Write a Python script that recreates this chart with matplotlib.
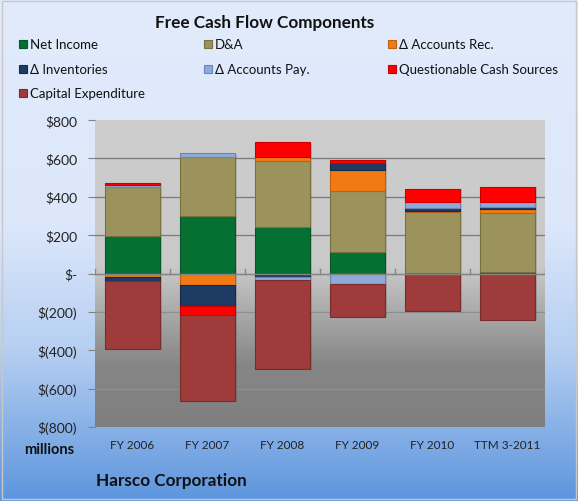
import numpy as np
import matplotlib
matplotlib.use("Agg")
import matplotlib.pyplot as plt
from matplotlib.colors import LinearSegmentedColormap
from matplotlib.patches import Rectangle

plt.rcParams["font.family"] = ["Lato", "DejaVu Sans"]

# data ($ millions)
categories = ["FY 2006", "FY 2007", "FY 2008", "FY 2009", "FY 2010", "TTM 3-2011"]
series_names = ["Net Income", "D&A", "Δ Accounts Rec.", "Δ Inventories",
                "Δ Accounts Pay.", "Questionable Cash Sources", "Capital Expenditure"]
net_income = [195, 298, 240, 110, 5, 9]
dna = [258, 310, 344, 320, 314, 307]
accounts_rec = [-20, -60, 24, 108, 5, 21]
inventories = [-20, -110, -17, 40, 16, 7]
accounts_pay = [7, 18, -18, -55, 34, 30]
questionable = [10, -45, 76, 15, 68, 79]
capex = [-352, -452, -465, -170, -193, -240]
y_ticks = [800, 600, 400, 200, 0, -200, -400, -600, -800]

colors = ["#067033", "#9c925c", "#f27a12", "#1e3b64", "#8eaad9", "#ff0000", "#9e3b3b"]
edges = ["#045528", "#77703f", "#c0600c", "#142a4a", "#6b86b5", "#c80000", "#7a2c2c"]

fig = plt.figure(figsize=(5.78, 5.02), dpi=100)

# figure background gradient
bg = fig.add_axes([0, 0, 1, 1], zorder=-10)
bg_cmap = LinearSegmentedColormap.from_list(
    "bg", [(0, "#e1ebfc"), (0.45, "#dce7fb"), (0.7, "#b6cff1"), (1.0, "#5d95de")])
bg.imshow(np.linspace(0, 1, 256).reshape(-1, 1), cmap=bg_cmap, aspect="auto",
          extent=[0, 1, 0, 1], origin="upper")
bg.add_patch(Rectangle((0.003, 0.003), 0.994, 0.994, fill=False, edgecolor="#c8c8c8", lw=1))
bg.set_xlim(0, 1)
bg.set_ylim(0, 1)
bg.axis("off")

ax = fig.add_axes([95 / 578, (502 - 428) / 502, 450 / 578, 307 / 502])

# plot area gradient
pa_cmap = LinearSegmentedColormap.from_list(
    "pa", [(0, "#cdcdcd"), (0.48, "#c9c9c9"), (0.8, "#868686"), (1.0, "#7f7f7f")])
ax.imshow(np.linspace(0, 1, 256).reshape(-1, 1), cmap=pa_cmap, aspect="auto",
          extent=[0, 1, 0, 1], origin="upper", transform=ax.transAxes, zorder=0)

x = np.arange(len(categories))
pos_bottom = np.zeros(len(categories))
neg_bottom = np.zeros(len(categories))
all_series = [net_income, dna, accounts_rec, inventories, accounts_pay, questionable, capex]
for vals, col, ec in zip(all_series, colors, edges):
    vals = np.array(vals, dtype=float)
    bottoms = np.where(vals >= 0, pos_bottom, neg_bottom)
    # soft shadow
    ax.bar(x + 0.02, vals, bottom=bottoms - 4, width=0.74, color="#000000", alpha=0.12,
           linewidth=0, zorder=2)
    ax.bar(x, vals, bottom=bottoms, width=0.74, color=col, edgecolor=ec, linewidth=0.8, zorder=3)
    pos_bottom = np.where(vals >= 0, pos_bottom + vals, pos_bottom)
    neg_bottom = np.where(vals < 0, neg_bottom + vals, neg_bottom)

ax.set_xlim(-0.5, len(categories) - 0.5)
ax.set_ylim(-800, 800)
ax.set_yticks(y_ticks)
ax.set_yticklabels(["$-" if v == 0 else (f"${v}" if v > 0 else f"$({-v})") for v in y_ticks])
for v in y_ticks[1:-1]:
    ax.axhline(v, color="#7a7a7a" if v > 0 else "#8e8e8e", lw=0.9, zorder=1)
ax.axhline(0, color="#858585", lw=1.0, zorder=4)
for b in np.arange(-0.5, len(categories), 1.0):
    ax.plot([b, b], [0, 22], color="#858585", lw=1.0, zorder=4)

ax.set_xticks(x)
ax.set_xticklabels(categories, fontsize=8.5, color="#222222")
ax.tick_params(axis="x", length=0, pad=9)
ax.tick_params(axis="y", length=5, color="#808080", labelsize=10, pad=8, labelcolor="#222222")
for s in ax.spines.values():
    s.set_visible(False)

# title and labels
fig.text(265 / 578, 1 - 23 / 502, "Free Cash Flow Components", ha="center", va="center",
         fontsize=12.3, fontweight="bold", color="#111111")
fig.text(49 / 578, 1 - 450 / 502, "millions", ha="center", va="center",
         fontsize=10.5, fontweight="bold", color="#111111")
fig.text(96 / 578, 1 - 481 / 502, "Harsco Corporation", ha="left", va="center",
         fontsize=12.3, fontweight="bold", color="#111111")

# legend, three columns laid out row by row
leg_x = [24, 209, 393]
leg_y = [45, 70, 94]
for i, (name, col, ec) in enumerate(zip(series_names, colors, edges)):
    lx = leg_x[i % 3]
    ly = leg_y[i // 3]
    bg.add_patch(Rectangle(((lx - 5) / 578, 1 - (ly + 4) / 502), 8 / 578, 8 / 502,
                           facecolor=col, edgecolor=ec, lw=0.8))
    fig.text((lx + 6) / 578, 1 - ly / 502, name, ha="left", va="center",
             fontsize=9.5, color="#111111")

fig.savefig("out.png", dpi=100)
